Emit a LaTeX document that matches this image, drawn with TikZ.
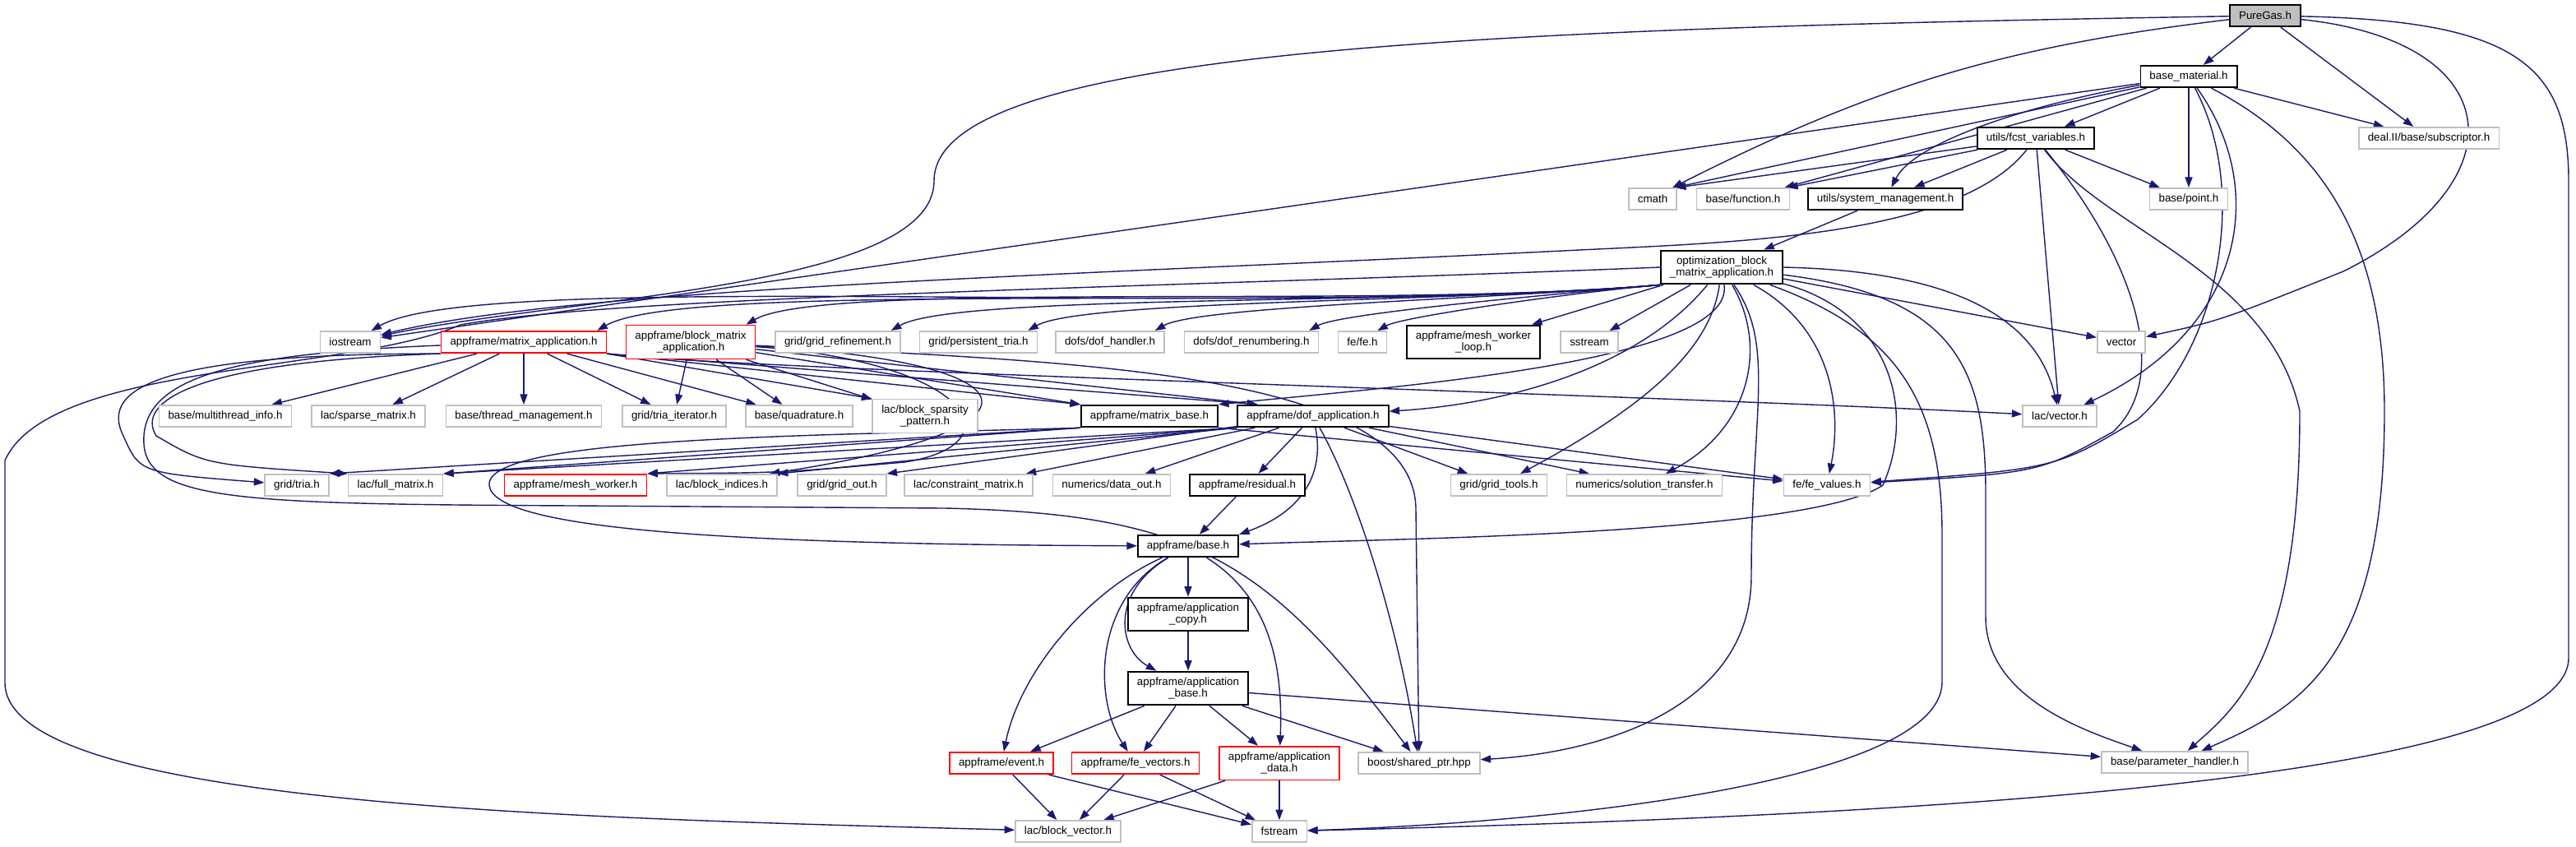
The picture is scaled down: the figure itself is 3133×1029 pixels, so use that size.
\documentclass[tikz,border=0pt]{standalone}
\usepackage{fontspec}
\setmainfont{Liberation Sans}
\usepackage{tikz}
\usetikzlibrary{arrows.meta}
\usepackage{xcolor}
\definecolor{edgeblue}{RGB}{25,25,112}
\definecolor{boxgrey}{RGB}{191,191,191}
\newcommand{\graphfont}{\fontsize{3.8pt}{4.1pt}\selectfont}
\pgfdeclarelayer{background}
\pgfsetlayers{background,main}

\begin{document}
\begin{tikzpicture}[x=0.01cm, y=-0.01cm,
  hdr/.style={draw=black, line width=0.55pt, fill=white, font=\graphfont, align=center,
    inner xsep=0.11cm, inner ysep=0.07cm, minimum height=0.26cm},
  ext/.style={hdr, draw=boxgrey, line width=0.45pt},
  cut/.style={hdr, draw=red, line width=0.5pt},
  edge/.style={draw=edgeblue, line width=0.4pt, -{Triangle[length=1.25mm, width=0.9mm]}}]
  \useasboundingbox (0,0) rectangle (3133,1029);

  % Top rows
  \node[hdr, fill=boxgrey] (PG) at (2755,19) {PureGas.h};
  \node[hdr] (BM) at (2662,93) {base\_material.h};
  \node[hdr] (FV) at (2476,168) {utils/fcst\_variables.h};
  \node[ext] (SUB) at (2954,168) {deal.II/base/subscriptor.h};
  \node[ext] (CM) at (2010,242) {cmath};
  \node[ext] (FN) at (2120,242) {base/function.h};
  \node[hdr] (SM) at (2293,242) {utils/system\_management.h};
  \node[ext] (PT) at (2662,242) {base/point.h};
  \node[hdr] (OPT) at (2094,325) {optimization\_block\\\_matrix\_application.h};

  % Row of optimization includes
  \node[ext] (IO) at (426,416) {iostream};
  \node[cut] (MA) at (637,416) {appframe/matrix\_application.h};
  \node[cut] (BMA) at (840,416) {appframe/block\_matrix\\\_application.h};
  \node[ext] (GR) at (1019,416) {grid/grid\_refinement.h};
  \node[ext] (PTR) at (1190,416) {grid/persistent\_tria.h};
  \node[ext] (DH) at (1350,416) {dofs/dof\_handler.h};
  \node[ext] (DR) at (1522,416) {dofs/dof\_renumbering.h};
  \node[ext] (FE) at (1657,416) {fe/fe.h};
  \node[hdr] (MWL) at (1792,416) {appframe/mesh\_worker\\\_loop.h};
  \node[ext] (SS) at (1933,416) {sstream};
  \node[ext] (VEC) at (2580,416) {vector};

  \node[ext] (MTI) at (274,506) {base/multithread\_info.h};
  \node[ext] (SPM) at (448,506) {lac/sparse\_matrix.h};
  \node[ext] (TM) at (637,506) {base/thread\_management.h};
  \node[ext] (TI) at (820,506) {grid/tria\_iterator.h};
  \node[ext] (QU) at (972,506) {base/quadrature.h};
  \node[ext] (BSP) at (1125,506) {lac/block\_sparsity\\\_pattern.h};
  \node[hdr] (MB) at (1398,506) {appframe/matrix\_base.h};
  \node[hdr] (DA) at (1597,506) {appframe/dof\_application.h};
  \node[ext] (LV) at (2505,506) {lac/vector.h};

  \node[ext] (TR) at (361,590) {grid/tria.h};
  \node[ext] (FM) at (481,590) {lac/full\_matrix.h};
  \node[cut] (MW) at (700,590) {appframe/mesh\_worker.h};
  \node[ext] (BI) at (878,590) {lac/block\_indices.h};
  \node[ext] (GO) at (1024,590) {grid/grid\_out.h};
  \node[ext] (CMX) at (1178,590) {lac/constraint\_matrix.h};
  \node[ext] (DO) at (1352,590) {numerics/data\_out.h};
  \node[hdr] (RES) at (1517,590) {appframe/residual.h};
  \node[ext] (GT) at (1823,590) {grid/grid\_tools.h};
  \node[ext] (ST) at (2000,590) {numerics/solution\_transfer.h};
  \node[ext] (FEV) at (2222,590) {fe/fe\_values.h};

  % Application chain
  \node[hdr] (BASE) at (1445,664) {appframe/base.h};
  \node[hdr] (AC) at (1445,747) {appframe/application\\\_copy.h};
  \node[hdr] (AB) at (1445,837) {appframe/application\\\_base.h};
  \node[cut] (EV) at (1218,928) {appframe/event.h};
  \node[cut] (FEVEC) at (1381,928) {appframe/fe\_vectors.h};
  \node[cut] (AD) at (1556,928) {appframe/application\\\_data.h};
  \node[ext] (SP) at (1726,928) {boost/shared\_ptr.hpp};
  \node[ext] (PH) at (2645,927) {base/parameter\_handler.h};
  \node[ext] (BV) at (1299,1011) {lac/block\_vector.h};
  \node[ext] (FS) at (1556,1011) {fstream};

  \begin{pgfonlayer}{background}
  % Straight includes
  \foreach \a/\b in {PG/BM, PG/SUB, BM/SUB, BM/FV, BM/PT, BM/FN, BM/IO,
      FV/SM, FV/PT, FV/LV, SM/OPT, OPT/MWL, OPT/SS, OPT/VEC,
      MA/MTI, MA/SPM, MA/TM, MA/TI, MA/QU, BMA/TI, BMA/QU, BMA/BSP,
      DA/CMX, DA/DO, DA/RES, DA/GT, DA/ST, DA/FEV,
      RES/BASE, BASE/AC, AC/AB, AB/EV, AB/FEVEC, AB/AD, AB/SP, AB/PH,
      EV/BV, EV/FS, FEVEC/BV, FEVEC/FS, AD/BV, AD/FS}
    \draw[edge] (\a) -- (\b);
  \draw[edge] (BM) -- ([xshift=-0.04cm]CM.north east);
  \draw[edge] (FV) -- ([xshift=-0.02cm]CM.north east);
  \draw[edge] (FV) -- ([xshift=-0.03cm]FN.north east);

  % PureGas.h
  \draw[edge] (PG) .. controls (1800,35) and (1136,60) .. (1136,220) .. controls (1136,350) and (700,360) .. (IO);
  \draw[edge] (PG) to[bend right=10] ([xshift=-0.06cm]CM.north east);
  \draw[edge] (PG) .. controls (3050,50) and (3070,220) .. (2850,330) .. controls (2700,390) .. (VEC);
  \draw[edge] (PG) .. controls (3060,25) and (3124,80) .. (3124,220) -- (3124,800) .. controls (3124,960) and (2200,995) .. (FS);

  % base_material.h and fcst_variables.h
  \draw[edge] (BM) .. controls (2480,125) and (2330,170) .. (SM);
  \draw[edge] (BM) .. controls (2760,230) and (2730,400) .. (LV);
  \draw[edge] (BM) .. controls (2735,230) and (2700,420) .. (2600,510) .. controls (2500,570) .. (FEV);
  \draw[edge] (BM) .. controls (2830,180) and (2900,300) .. (2900,500) .. controls (2900,800) and (2800,860) .. (PH);
  \draw[edge] (FV) .. controls (2380,290) and (2100,295) .. (1900,305) .. controls (1300,335) and (700,350) .. (IO);
  \draw[edge] (FV) .. controls (2600,320) and (2640,460) .. (2570,525) .. controls (2480,575) .. (FEV);
  \draw[edge] (FV) .. controls (2560,280) and (2760,330) .. (2797,500) .. controls (2797,800) and (2720,860) .. (PH);

  % optimization_block_matrix_application.h
  \foreach \t in {IO,MA,BMA,GR,PTR,DH,DR,FE}
    \draw[edge] (OPT.south west) to[out=185, in=30, out looseness=0.8, in looseness=0.25] ([xshift=-0.12cm]\t.north east);
  \draw[edge] (OPT) .. controls (2110,440) and (1700,470) .. (MB.north east);
  \draw[edge] (OPT) .. controls (2000,440) and (1850,490) .. (DA);
  \draw[edge] (OPT) .. controls (2080,430) and (1990,500) .. (GT);
  \draw[edge] (OPT) .. controls (2150,420) and (2130,520) .. (ST);
  \draw[edge] (OPT) .. controls (2230,400) and (2240,500) .. (FEV);
  \draw[edge] (OPT.east) .. controls (2400,330) and (2480,400) .. (LV);
  \draw[edge] (OPT) .. controls (2300,380) and (2330,500) .. (2290,590) .. controls (2200,650) and (1700,655) .. (BASE);
  \draw[edge] (OPT) .. controls (2160,420) and (2130,500) .. (2130,700) .. controls (2130,860) and (1950,915) .. (SP);
  \draw[edge] (OPT) .. controls (2300,400) and (2362,480) .. (2362,650) -- (2362,830) .. controls (2360,950) and (1900,1000) .. (FS);
  \draw[edge] (OPT) .. controls (2380,360) and (2415,450) .. (2415,600) -- (2415,750) .. controls (2415,850) and (2540,890) .. (PH);
  \draw[edge] (OPT.west) .. controls (1400,350) and (750,360) .. (560,395) .. controls (420,455) and (60,440) .. (6,560) -- (6,830) .. controls (6,980) and (700,995) .. (BV);

  % matrix_application.h and block_matrix_application.h
  \draw[edge] (MA.south east) -- (BSP.north west);
  \draw[edge] (MA.south east) -- (MB.north west);
  \draw[edge] (MA.south east) -- ([xshift=0.25cm]DA.north west);
  \draw[edge] (BMA) -- (MB.north west);
  \draw[edge] (BMA) -- ([xshift=0.25cm]DA.north west);
  \draw[edge] (MA.south east) .. controls (900,450) and (2000,480) .. (LV);
  \draw[edge] (MA.south west) .. controls (200,430) and (120,470) .. (150,530) .. controls (170,575) .. (TR);
  \draw[edge] (MA.south west) .. controls (230,440) and (165,490) .. (190,530) .. controls (250,565) .. (FM.north west);
  \draw[edge] (MA) .. controls (280,430) and (170,460) .. (175,540) .. controls (180,610) and (300,613) .. (700,615) -- (1150,618) .. controls (1450,625) and (1540,680) .. (SP);
  \draw[edge] (BMA) .. controls (1180,440) and (1240,540) .. (1100,562) .. controls (950,575) .. (MW.north east);
  \draw[edge] (BMA) .. controls (1260,440) and (1300,520) .. ([xshift=-0.1cm]BI.north east);
  \draw[edge] (BMA) .. controls (1300,440) and (1722,450) .. (1722,620) -- (SP);

  % matrix_base.h and dof_application.h
  \draw[edge] (MB.south west) -- (TR.north east);
  \draw[edge] (MB.south west) -- (FM.north east);
  \draw[edge] (MB.south east) -- (FEV);
  \draw[edge] (MB.south west) .. controls (1000,530) and (590,530) .. (595,590) .. controls (600,645) and (900,662) .. (BASE);
  \draw[edge] (DA.south west) -- (FM.north east);
  \draw[edge] (DA.south west) -- (MW.north east);
  \draw[edge] (DA.south west) -- (BI.north east);
  \draw[edge] (DA) -- (GO.north east);
  \draw[edge] (DA) .. controls (1610,570) and (1590,620) .. (BASE.north east);
  \draw[edge] (DA) .. controls (1650,600) and (1700,760) .. (SP);

  % appframe/base.h
  \draw[edge] (BASE) .. controls (1350,720) and (1360,790) .. (AB);
  \draw[edge] (BASE) .. controls (1320,720) and (1240,820) .. (EV);
  \draw[edge] (BASE) .. controls (1330,730) and (1330,850) .. (FEVEC);
  \draw[edge] (BASE) .. controls (1550,730) and (1560,820) .. (AD);
  \end{pgfonlayer}
\end{tikzpicture}
\end{document}
